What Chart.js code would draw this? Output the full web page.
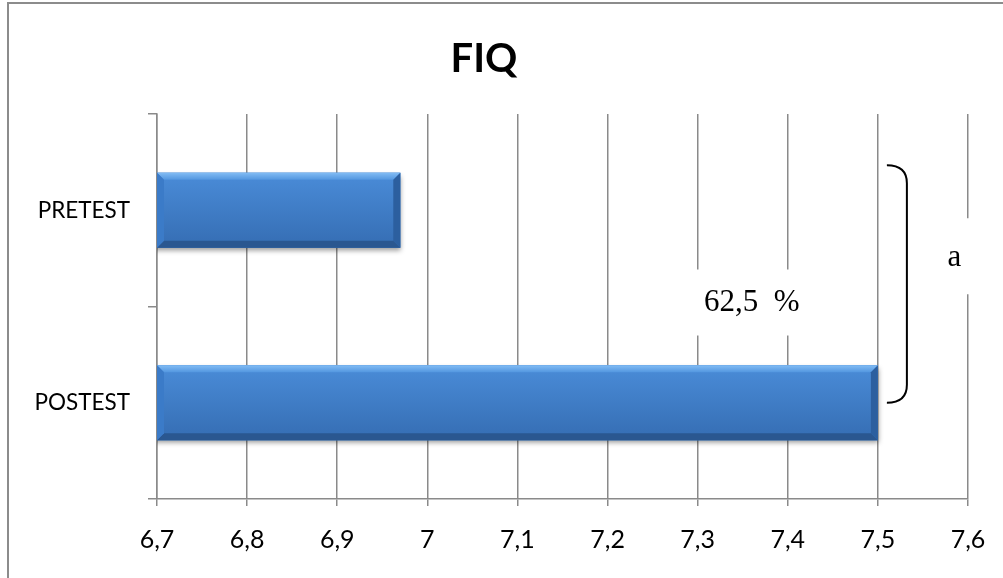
<!DOCTYPE html>
<html>
<head>
<meta charset="utf-8">
<script src="https://cdn.jsdelivr.net/npm/chart.js@4"></script>
<style>
  html, body { margin: 0; padding: 0; background: #fff; }
  #wrap { width: 1003px; height: 578px; position: relative; }
</style>
</head>
<body>
<div id="wrap"><canvas id="fiqChart"></canvas></div>
<script>
const categories = ['PRETEST', 'POSTEST'];
const fiqValues = [6.97, 7.5];
const xTickLabels = ['6,7', '6,8', '6,9', '7', '7,1', '7,2', '7,3', '7,4', '7,5', '7,6'];
const changeLabel = '62,5  %';
const signifLabel = 'a';

const gridGrey = '#8a8a8a';

// frame, gaps in gridlines, brace and notes
const notesPlugin = {
    id: 'notes',
    beforeDraw(chart) {
        const c = chart.ctx;
        c.save();
        c.fillStyle = '#fff';
        c.fillRect(0, 0, chart.width, chart.height);
        c.strokeStyle = '#8c8c8c';
        c.lineWidth = 2;
        c.beginPath();
        c.moveTo(8, chart.height);
        c.lineTo(8, 3);
        c.lineTo(chart.width, 3);
        c.stroke();
        c.restore();
    },
    beforeDatasetsDraw(chart) {
        const c = chart.ctx;
        const x = chart.scales.x, y = chart.scales.y;
        const mid = (y.getPixelForValue(0) + y.getPixelForValue(1)) / 2;
        c.save();
        c.fillStyle = '#fff';
        // text boxes hide the grid behind them
        c.fillRect(x.getPixelForValue(7.27), mid - 37, x.getPixelForValue(7.45) - x.getPixelForValue(7.27), 66);
        c.fillRect(x.getPixelForValue(7.57), y.getPixelForValue(0) + 8, 40, 76);
        c.restore();
    },
    beforeDatasetDraw(chart) {
        const c = chart.ctx;
        c.save();
        c.shadowColor = 'rgba(0,0,0,0.4)';
        c.shadowBlur = 5;
        c.shadowOffsetX = 1;
        c.shadowOffsetY = 3;
    },
    afterDatasetDraw(chart) {
        chart.ctx.restore();
        const c = chart.ctx;
        const area = chart.chartArea;
        const b = 7;
        chart.getDatasetMeta(0).data.forEach(bar => {
            const L = Math.max(Math.min(bar.base, bar.x), area.left), R = Math.max(bar.base, bar.x);
            const T = bar.y - bar.height / 2, B = bar.y + bar.height / 2;
            c.save();
            const face = c.createLinearGradient(0, T, 0, B);
            face.addColorStop(0, '#4a8cd8');
            face.addColorStop(1, '#356db3');
            c.fillStyle = face;
            c.fillRect(L, T, R - L, B - T);
            const poly = (pts, fill) => {
                c.beginPath();
                c.moveTo(pts[0][0], pts[0][1]);
                pts.slice(1).forEach(p => c.lineTo(p[0], p[1]));
                c.closePath();
                c.fillStyle = fill;
                c.fill();
            };
            const top = c.createLinearGradient(0, T, 0, T + b);
            top.addColorStop(0, '#82bcf4');
            top.addColorStop(1, '#5397e0');
            poly([[L, T], [R, T], [R - b, T + b], [L + b, T + b]], top);
            poly([[L, B], [R, B], [R - b, B - b], [L + b, B - b]], '#2a5790');
            poly([[L, T], [L + b, T + b], [L + b, B - b], [L, B]], '#3b7bc8');
            poly([[R, T], [R - b, T + b], [R - b, B - b], [R, B]], '#2c5f9f');
            c.restore();
        });
    },
    afterDraw(chart) {
        const c = chart.ctx;
        const x = chart.scales.x, y = chart.scales.y;
        const y0 = y.getPixelForValue(0), y1 = y.getPixelForValue(1);
        const mid = (y0 + y1) / 2;
        c.save();
        // brace
        const bx0 = x.getPixelForValue(7.5) + 9, bx1 = bx0 + 20;
        const by0 = y0 - 45, by1 = y1;
        c.strokeStyle = '#000';
        c.lineWidth = 2;
        c.beginPath();
        c.moveTo(bx0, by0);
        c.quadraticCurveTo(bx1, by0, bx1, by0 + 18);
        c.lineTo(bx1, by1 - 18);
        c.quadraticCurveTo(bx1, by1, bx0, by1);
        c.stroke();
        c.fillStyle = '#000';
        c.font = '31px "Liberation Serif", "Times New Roman", serif';
        c.textAlign = 'center';
        c.textBaseline = 'middle';
        c.fillText(changeLabel, x.getPixelForValue(7.36), mid - 4);
        c.fillText(signifLabel, x.getPixelForValue(7.585), y0 + 48);
        c.restore();
    }
};

const ctx = document.getElementById('fiqChart').getContext('2d');
const fiqChart = new Chart(ctx, {
    type: 'bar',
    data: {
        labels: categories,
        datasets: [{
            label: 'FIQ',
            data: fiqValues,
            backgroundColor: '#3f7fcc',
            borderWidth: 0,
            barPercentage: 0.39,
            categoryPercentage: 1
        }]
    },
    options: {
        indexAxis: 'y',
        responsive: true,
        maintainAspectRatio: false,
        animation: false,
        layout: {
            padding: { left: 0, right: 35, top: 0, bottom: 4 }
        },
        scales: {
            x: {
                min: 6.7,
                max: 7.6,
                ticks: {
                    stepSize: 0.1,
                    color: '#000',
                    padding: 19,
                    maxRotation: 0,
                    autoSkip: false,
                    font: { family: 'Lato', size: 25 },
                    callback: (v, i) => xTickLabels[i]
                },
                grid: {
                    color: gridGrey,
                    lineWidth: 1.5,
                    tickLength: 7
                },
                border: { color: gridGrey, width: 1.5 },
                afterFit: (s) => { s.paddingRight = 0; s.paddingLeft = 0; }
            },
            y: {
                ticks: {
                    color: '#000',
                    padding: 18,
                    font: { family: 'Lato', size: 22.5 }
                },
                grid: {
                    drawOnChartArea: false,
                    color: gridGrey,
                    lineWidth: 1.5,
                    tickLength: 9
                },
                border: { color: gridGrey, width: 1.5 },
                afterFit: (s) => { s.width = 157; }
            }
        },
        plugins: {
            legend: { display: false },
            tooltip: { enabled: false },
            title: {
                display: true,
                text: 'FIQ',
                color: '#000',
                font: { family: 'Lato', size: 40, weight: 'bold' },
                padding: { top: 35, bottom: 31 }
            }
        }
    },
    plugins: [notesPlugin]
});
</script>
</body>
</html>
